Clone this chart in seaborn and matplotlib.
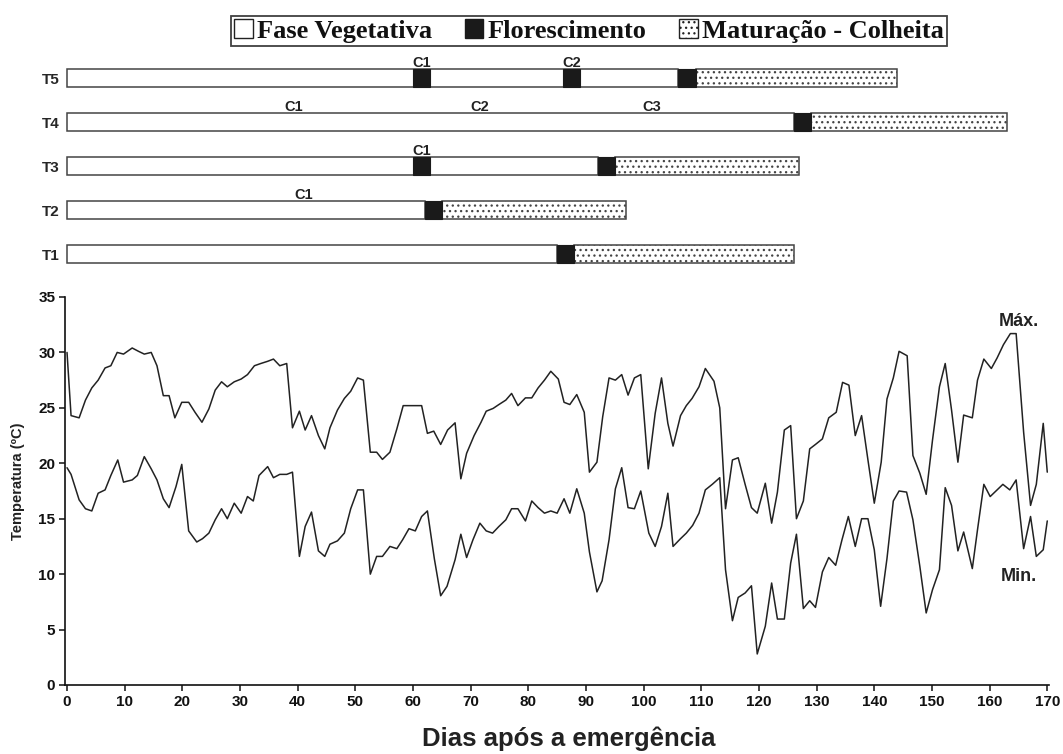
import numpy as np
import pandas as pd
import matplotlib
matplotlib.use("Agg")
import matplotlib.pyplot as plt
from matplotlib.patches import Patch
import seaborn as sns

# ---------------- data ----------------
days_max = [0.0, 0.7, 2.1, 3.2, 4.3, 5.4, 6.6, 7.6, 8.7,
            9.8, 11.3, 12.4, 13.4, 14.6, 15.6, 16.7, 17.7,
            18.7, 19.9, 21.1, 22.2, 23.4, 24.6, 25.7, 26.8, 27.8,
            29.0, 30.2, 31.3, 32.5, 33.6, 34.8, 35.8, 36.9, 38.1,
            39.1, 40.3, 41.3, 42.4, 43.6, 44.7, 45.6, 46.9, 48.1,
            49.2, 50.4, 51.4, 52.6, 53.7, 54.7, 56.0, 57.2,
            58.3, 60.2, 61.5, 62.5, 63.6, 64.8, 66.0, 67.3,
            68.3, 69.3, 70.6, 71.8, 72.7, 73.9, 74.9, 76.1, 77.1,
            78.2, 79.5, 80.6, 81.7, 82.8, 83.9, 85.2, 86.2, 87.2, 88.4,
            89.7, 90.6, 91.9, 92.9, 94.0, 95.1, 96.2, 97.3, 98.4, 99.5,
            100.8, 102.0, 103.1, 104.2, 105.1, 106.4, 107.4, 108.4, 109.6,
            110.7, 112.2, 113.2, 114.2, 115.4, 116.4, 117.6, 118.7, 119.7,
            121.1, 122.2, 123.2, 124.4, 125.5, 126.5, 127.7, 128.8, 129.8,
            131.0, 132.1, 133.4, 134.5, 135.6, 136.7, 137.8, 138.9, 140.0,
            141.2, 142.2, 143.3, 144.3, 145.7, 146.7, 147.9, 149.0,
            150.1, 151.3, 152.3, 153.4, 154.5, 155.5, 157.0, 157.9, 159.0,
            160.3, 161.3, 162.4, 163.6, 164.6, 165.9, 167.1, 168.1, 169.3, 170.0]
temp_max = [30.0, 24.3, 24.1, 25.7, 26.8, 27.5, 28.6, 28.8, 30.0,
            29.85, 30.4, 30.1, 29.85, 30.0, 28.8, 26.1, 26.1,
            24.1, 25.5, 25.5, 24.6, 23.7, 24.9, 26.6, 27.35, 26.9,
            27.35, 27.6, 28.0, 28.8, 29.0, 29.2, 29.4, 28.8, 29.0,
            23.2, 24.7, 23.0, 24.3, 22.5, 21.3, 23.2, 24.8, 25.85,
            26.5, 27.7, 27.5, 21.0, 21.0, 20.35, 21.0, 23.1,
            25.2, 25.2, 25.2, 22.7, 22.9, 21.7, 23.0, 23.65,
            18.6, 20.9, 22.5, 23.7, 24.7, 24.95, 25.3, 25.7, 26.3,
            25.2, 25.9, 25.9, 26.8, 27.5, 28.3, 27.6, 25.5, 25.3, 26.2,
            24.6, 19.2, 20.1, 24.2, 27.7, 27.5, 28.0, 26.15, 27.7, 28.0,
            19.5, 24.5, 27.7, 23.6, 21.55, 24.3, 25.2, 25.85, 26.9,
            28.55, 27.4, 25.0, 15.9, 20.3, 20.5, 18.1, 16.0, 15.5,
            18.2, 14.6, 17.4, 23.0, 23.4, 15.0, 16.6, 21.3, 21.7,
            22.2, 24.1, 24.6, 27.3, 27.05, 22.5, 24.3, 20.3, 16.4,
            20.1, 25.8, 27.7, 30.1, 29.7, 20.7, 19.1, 17.2,
            22.1, 26.9, 29.0, 24.8, 20.1, 24.35, 24.1, 27.5, 29.4,
            28.55, 29.5, 30.7, 31.7, 31.7, 22.8, 16.2, 18.1, 23.6, 19.2]

days_min = [0.0, 0.7, 2.1, 3.2, 4.3, 5.4, 6.6, 7.6, 8.8,
            9.8, 11.3, 12.2, 13.4, 14.6, 15.6, 16.7, 17.7,
            18.9, 19.9, 21.1, 22.5, 23.5, 24.6, 25.7, 26.8, 27.8,
            29.0, 30.2, 31.3, 32.3, 33.3, 34.8, 35.8, 36.9, 38.1,
            39.1, 40.3, 41.3, 42.4, 43.6, 44.7, 45.6, 46.9, 48.1,
            49.2, 50.4, 51.4, 52.6, 53.7, 54.7, 56.0, 57.2,
            58.2, 59.3, 60.4, 61.5, 62.5, 63.7, 64.8, 65.9, 67.3,
            68.3, 69.3, 70.4, 71.6, 72.7, 73.8, 74.9, 76.1, 77.1,
            78.2, 79.5, 80.6, 81.7, 82.8, 83.9, 85.0, 86.2, 87.2, 88.4,
            89.7, 90.6, 91.9, 92.8, 94.0, 95.1, 96.2, 97.3, 98.4, 99.5,
            100.9, 102.0, 103.1, 104.2, 105.1, 106.4, 107.4, 108.5, 109.6,
            110.7, 111.9, 113.2, 114.2, 115.4, 116.4, 117.6, 118.7, 119.7,
            121.1, 122.2, 123.2, 124.4, 125.5, 126.5, 127.7, 128.8, 129.8,
            131.0, 132.1, 133.3, 134.4, 135.5, 136.7, 137.8, 138.9, 140.0,
            141.1, 142.2, 143.3, 144.3, 145.6, 146.7, 147.9, 149.0,
            150.1, 151.3, 152.3, 153.4, 154.5, 155.5, 157.0, 157.9, 159.0,
            160.1, 161.3, 162.3, 163.5, 164.6, 165.9, 167.1, 168.1, 169.3, 170.0]
temp_min = [19.6, 19.0, 16.7, 15.9, 15.7, 17.3, 17.6, 18.9, 20.3,
            18.3, 18.5, 18.9, 20.6, 19.5, 18.5, 16.8, 16.0,
            17.9, 19.9, 13.9, 12.9, 13.2, 13.7, 14.9, 15.9, 15.0,
            16.4, 15.5, 17.0, 16.6, 18.9, 19.7, 18.7, 19.0, 19.0,
            19.2, 11.6, 14.3, 15.6, 12.1, 11.6, 12.7, 13.0, 13.7,
            15.9, 17.6, 17.6, 10.0, 11.6, 11.6, 12.5, 12.3,
            13.1, 14.1, 13.9, 15.2, 15.7, 11.4, 8.05, 8.9, 11.3,
            13.6, 11.5, 13.1, 14.6, 13.9, 13.7, 14.3, 14.9, 15.9,
            15.9, 14.8, 16.6, 16.0, 15.5, 15.7, 15.5, 16.8, 15.5, 17.7,
            15.5, 12.0, 8.4, 9.4, 13.1, 17.7, 19.6, 16.0, 15.9, 17.5,
            13.7, 12.5, 14.3, 17.3, 12.5, 13.2, 13.7, 14.4, 15.5,
            17.6, 18.1, 18.7, 10.4, 5.8, 7.9, 8.3, 8.95, 2.8,
            5.3, 9.2, 5.95, 5.95, 11.0, 13.6, 6.9, 7.6, 7.0,
            10.2, 11.5, 10.8, 13.1, 15.2, 12.5, 15.0, 15.0, 12.2,
            7.1, 11.4, 16.6, 17.5, 17.4, 14.9, 10.7, 6.5,
            8.6, 10.4, 17.8, 16.2, 12.1, 13.8, 10.5, 14.0, 18.1,
            17.0, 17.6, 18.1, 17.6, 18.5, 12.3, 15.2, 11.6, 12.2, 14.8]

# phenology bars (days after emergence)
treatments = ["T1", "T2", "T3", "T4", "T5"]
flower_start = [85, 62, 92, 126, 106]
flower_end = [88, 65, 95, 129, 109]
harvest_end = [126, 97, 127, 163, 144]
# flowering re-growth after cuts (treatment, start, end)
cut_flower_trt = ["T3", "T5", "T5"]
cut_flower_start = [60, 60, 86]
cut_flower_end = [63, 63, 89]
# cut labels (treatment, day, label)
cut_label_trt = ["T2", "T3", "T4", "T4", "T4", "T5", "T5"]
cut_label_day = [41, 61.5, 39.3, 71.6, 101.4, 61.5, 87.5]
cut_label_txt = ["C1", "C1", "C1", "C2", "C3", "C1", "C2"]

legend_labels = ["Fase Vegetativa", "Florescimento", "Maturação - Colheita"]

# ---------------- style ----------------
sns.set_style("ticks")
plt.rcParams["font.family"] = ["Liberation Sans", "DejaVu Sans"]
plt.rcParams["hatch.linewidth"] = 0.9
plt.rcParams["hatch.color"] = "#333333"

W, H = 1063, 754
fig = plt.figure(figsize=(W / 100, H / 100), dpi=100)

XL = (-0.35, 170.3)

# ---------------- temperature panel ----------------
ax = fig.add_axes([65 / W, 1 - 685 / H, (1049 - 65) / W, (685 - 297) / H])
df_max = pd.DataFrame({"dia": days_max, "temp": temp_max})
df_min = pd.DataFrame({"dia": days_min, "temp": temp_min})
sns.lineplot(data=df_max, x="dia", y="temp", ax=ax, color="#222222",
             lw=1.1, estimator=None, sort=False)
sns.lineplot(data=df_min, x="dia", y="temp", ax=ax, color="#222222",
             lw=1.1, estimator=None, sort=False)
ax.set_xlim(*XL)
ax.set_ylim(0, 35)
ax.set_xticks(np.arange(0, 171, 10))
ax.set_yticks(np.arange(0, 36, 5))
ax.set_xlabel("")
ax.set_ylabel("")
sns.despine(ax=ax)
for s in ["left", "bottom"]:
    ax.spines[s].set_linewidth(1.2)
    ax.spines[s].set_color("#111111")
ax.tick_params(axis="both", direction="out", length=4, width=1.1,
               labelsize=11, colors="#111111", pad=3)
for lab in ax.get_xticklabels() + ax.get_yticklabels():
    lab.set_fontweight("bold")

ax.text(165.1, 32.8, "Máx.", ha="center", va="center", fontsize=13,
        fontweight="bold", color="#222222")
ax.text(165.0, 9.8, "Min.", ha="center", va="center", fontsize=13,
        fontweight="bold", color="#222222")

fig.text(569 / W, 1 - 739 / H, "Dias após a emergência", ha="center",
         va="center", fontsize=18.5, fontweight="bold", color="#222222")
fig.text(18 / W, 1 - 481 / H, "Temperatura (ºC)", ha="center", va="center",
         rotation=90, fontsize=10.5, fontweight="bold", color="#222222")

# ---------------- phenology panel ----------------
axb = fig.add_axes([65 / W, 1 - 276 / H, (1049 - 65) / W, 220 / H])
axb.set_xlim(*XL)
axb.set_ylim(-0.5, 4.5)
bh = 0.41
edge = "#444444"
for i, t in enumerate(treatments):
    axb.barh(i, flower_start[i], left=0, height=bh, color="white",
             edgecolor=edge, linewidth=1.1, zorder=2)
    axb.barh(i, harvest_end[i] - flower_end[i], left=flower_end[i],
             height=bh, color="white", edgecolor=edge, hatch="...",
             linewidth=1.1, zorder=2)
    axb.barh(i, flower_end[i] - flower_start[i], left=flower_start[i],
             height=bh, color="#1a1a1a", edgecolor="#1a1a1a", linewidth=0.8,
             zorder=3)
for t, s, e in zip(cut_flower_trt, cut_flower_start, cut_flower_end):
    i = treatments.index(t)
    axb.barh(i, e - s, left=s, height=bh, color="#1a1a1a",
             edgecolor="#1a1a1a", linewidth=0.8, zorder=3)
for t, d, txt in zip(cut_label_trt, cut_label_day, cut_label_txt):
    i = treatments.index(t)
    axb.text(d, i + bh / 2 + 0.04, txt, ha="center", va="baseline",
             fontsize=10.5, fontweight="bold", color="#222222")

axb.set_yticks(range(len(treatments)))
axb.set_yticklabels(treatments)
axb.tick_params(axis="y", length=0, pad=4, labelsize=11)
for lab in axb.get_yticklabels():
    lab.set_fontweight("bold")
axb.set_xticks([])
for s in axb.spines.values():
    s.set_visible(False)

# ---------------- legend ----------------
handles = [Patch(facecolor="white", edgecolor="#222222", linewidth=1.0),
           Patch(facecolor="#1a1a1a", edgecolor="#1a1a1a", linewidth=1.0),
           Patch(facecolor="white", edgecolor="#222222", hatch="...",
                 linewidth=1.0)]
leg = fig.legend(handles, legend_labels, ncol=3, loc="center",
                 bbox_to_anchor=(589 / W, 1 - 31 / H), frameon=True,
                 fancybox=False, handlelength=0.7, handleheight=0.7,
                 handletextpad=0.15, columnspacing=1.25, borderpad=0.12,
                 borderaxespad=0.0,
                 prop={"family": "Liberation Serif", "weight": "bold",
                       "size": 19})
leg.get_frame().set_edgecolor("#111111")
leg.get_frame().set_linewidth(1.3)
for txt in leg.get_texts():
    txt.set_color("#111111")

fig.savefig("out.png", dpi=100)
